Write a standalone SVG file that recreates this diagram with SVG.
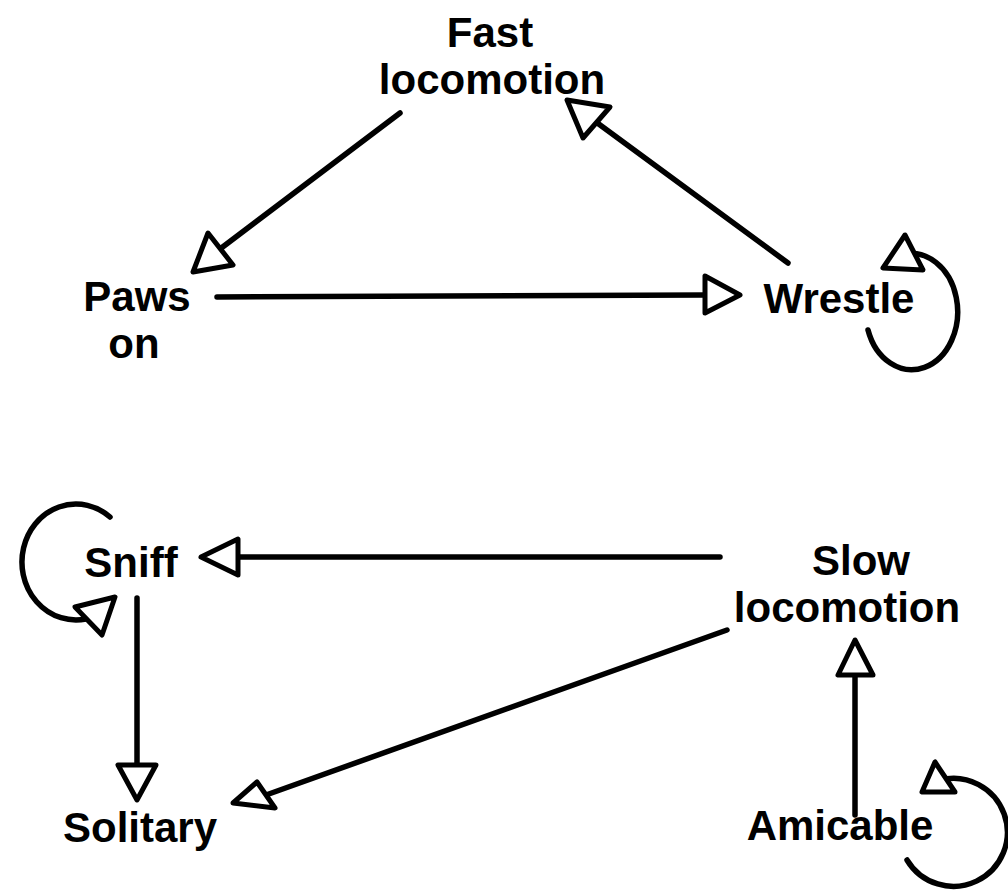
<svg xmlns="http://www.w3.org/2000/svg" width="1008" height="891" viewBox="0 0 1008 891">
<style>
.lbl{font-family:"Liberation Sans",Arial,sans-serif;font-weight:bold;font-size:42px;fill:#000;text-anchor:middle}
.ln{stroke:#000;stroke-width:5.5;fill:none;stroke-linecap:round}
.hd{stroke:#000;stroke-width:5;fill:#fff;stroke-linejoin:round}
</style>
<rect width="1008" height="891" fill="#fff"/>
<g id="connectors">
<line class="ln" x1="400" y1="113" x2="220" y2="249"/>
<polygon class="hd" points="193,272 208,233 233,265"/>
<line class="ln" x1="788" y1="263" x2="596" y2="122"/>
<polygon class="hd" points="567,100 583,138 610,107"/>
<line class="ln" x1="217" y1="297" x2="705" y2="295"/>
<polygon class="hd" points="740,295 705,276 705,313"/>
<path class="ln" d="M 868 330 A 46 58 0 1 0 902 255"/>
<polygon class="hd" points="905,235 883,268 923,270"/>
<line class="ln" x1="720" y1="557" x2="238" y2="557"/>
<polygon class="hd" points="201,557 238,539 238,575"/>
<path class="ln" d="M 110 517 A 54 58 0 1 0 86 619"/>
<polygon class="hd" points="115,597 75,607 102,635"/>
<line class="ln" x1="137" y1="598" x2="137" y2="765"/>
<polygon class="hd" points="137,800 118,765 156,765"/>
<line class="ln" x1="727" y1="630" x2="266" y2="795"/>
<polygon class="hd" points="233,803 257,782 275,808"/>
<line class="ln" x1="855" y1="815" x2="855" y2="675"/>
<polygon class="hd" points="855,640 838,675 873,675"/>
<path class="ln" d="M 907 860 A 54 54 0 1 0 940 780"/>
<polygon class="hd" points="935,762 922,792 955,792"/>
</g>
<g id="fast-locomotion"><text class="lbl"><tspan x="490" y="47">Fast</tspan><tspan x="492" y="94">locomotion</tspan></text></g>
<g id="paws-on"><text class="lbl"><tspan x="137" y="311">Paws</tspan><tspan x="134" y="358">on</tspan></text></g>
<g id="wrestle"><text class="lbl" x="839" y="313">Wrestle</text></g>
<g id="sniff"><text class="lbl" x="131" y="577">Sniff</text></g>
<g id="slow-locomotion"><text class="lbl"><tspan x="861" y="575">Slow</tspan><tspan x="847" y="622">locomotion</tspan></text></g>
<g id="solitary"><text class="lbl" x="140" y="842">Solitary</text></g>
<g id="amicable"><text class="lbl" x="840" y="840">Amicable</text></g>
</svg>
